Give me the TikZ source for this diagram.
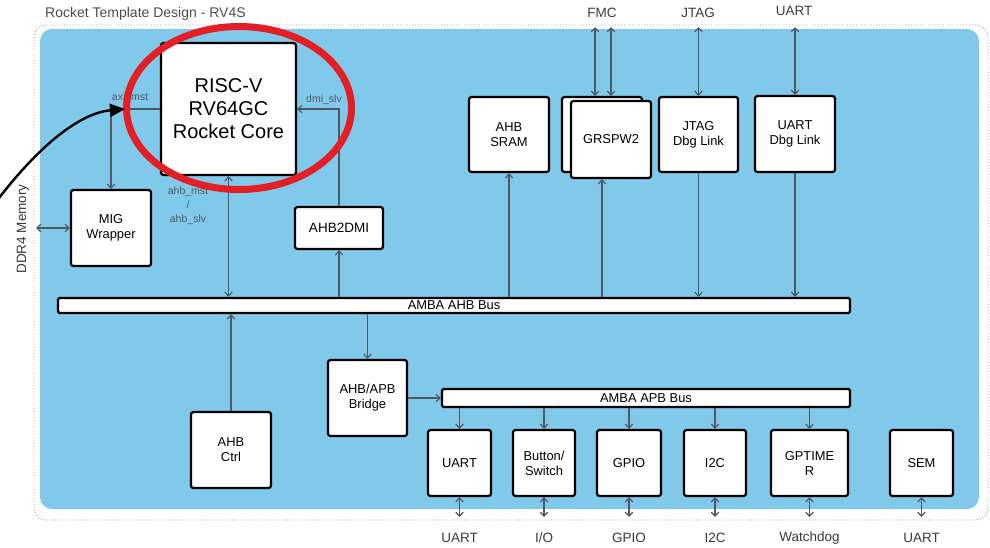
\documentclass[tikz,border=0pt]{standalone}
\usepackage{fontspec}
\setmainfont{Liberation Sans}
\usetikzlibrary{arrows.meta,calc,shapes.geometric}
\definecolor{bgblue}{HTML}{80C9EA}
\definecolor{conngray}{HTML}{4E5860}
\definecolor{redring}{HTML}{E31E24}
\definecolor{labgray}{HTML}{3A3A3A}
\definecolor{siggray}{HTML}{505A60}
\begin{document}
\begin{tikzpicture}[x=1pt,y=-1pt,
  >={Straight Barb[length=4pt,width=7.5pt]},
  blk/.style={draw=black, line width=2.2pt, fill=white, rounded corners=2.5pt, align=center, inner sep=0pt, font=\fontsize{12.9}{15}\selectfont},
  busbar/.style={draw=black, line width=2.2pt, fill=white, rounded corners=1.5pt, inner sep=0pt, font=\fontsize{12.9}{15}\selectfont},
  conn/.style={draw=conngray, line width=1.2pt},
  ext/.style={text=labgray, inner sep=0pt, font=\fontsize{13.5}{16}\selectfont},
  sig/.style={text=siggray, inner sep=0pt, align=center, font=\fontsize{10.5}{14}\selectfont},
]
\useasboundingbox (0,0) rectangle (990,547);
\fill[white] (0,0) rectangle (990,547);

% title
\node[ext, anchor=west, text=black!70, font=\fontsize{14}{16}\selectfont] (title) at (45,14) {Rocket Template Design - RV4S};

% frame and background
\draw[black!40, dotted, line width=0.9pt, rounded corners=12pt] (34,25) rectangle (988,520);
\fill[bgblue, rounded corners=12pt] (40,29) rectangle (979,509);

% main blocks
\node[blk, minimum width=135pt, minimum height=132pt, font=\fontsize{20}{23}\selectfont] (core) at (228.5,109) {RISC-V\\RV64GC\\Rocket Core};
\node[blk, minimum width=80pt, minimum height=76pt] (mig) at (111,228) {MIG\\Wrapper};
\node[blk, minimum width=88pt, minimum height=42pt, font=\fontsize{13.5}{15}\selectfont] (dmi) at (339,228) {AHB2DMI};
\node[blk, minimum width=80pt, minimum height=75pt] (sram) at (509,134.5) {AHB\\SRAM};
\node[blk, minimum width=80pt, minimum height=75pt] (grb) at (602,134.5) {};
\node[blk, minimum width=80pt, minimum height=77pt] (grf) at (611,139.5) {GRSPW2};
\node[blk, minimum width=79pt, minimum height=75pt] (jtag) at (698.5,134.5) {JTAG\\Dbg Link};
\node[blk, minimum width=80pt, minimum height=76pt] (udbg) at (795,134) {UART\\Dbg Link};

% buses
\node[busbar, minimum width=792pt, minimum height=15pt] (ahb) at (454,305.5) {AMBA AHB Bus};
\node[busbar, minimum width=408pt, minimum height=18pt] (apb) at (646,398) {AMBA APB Bus};

\node[blk, minimum width=79pt, minimum height=76pt] (bridge) at (367.5,398) {AHB/APB\\Bridge};
\node[blk, minimum width=80pt, minimum height=76pt] (actrl) at (231,450) {AHB\\Ctrl};

% peripherals
\node[blk, minimum width=63pt, minimum height=66pt] (pu) at (459.5,463) {UART};
\node[blk, minimum width=62pt, minimum height=66pt] (pb) at (544,463) {Button/\\Switch};
\node[blk, minimum width=64pt, minimum height=66pt] (pg) at (629,463) {GPIO};
\node[blk, minimum width=62pt, minimum height=66pt] (pi) at (715,463) {I2C};
\node[blk, minimum width=77pt, minimum height=66pt] (pt) at (809.5,463) {GPTIME\\R};
\node[blk, minimum width=63pt, minimum height=66pt] (ps) at (921.5,463) {SEM};

% signal labels
\node[sig] (axil) at (130,98) {axi\_mst};
\node[sig] (dmil) at (324,100) {dmi\_slv};
\node[sig] (ahbl) at (188,206) {ahb\_mst\\/\\ahb\_slv};
\node[ext, rotate=90] (ddr) at (23,229) {DDR4 Memory};

% top external labels
\node[ext] (fmc) at (602,13) {FMC};
\node[ext] (jtl) at (698,13) {JTAG};
\node[ext] (utl) at (794,11) {UART};

% bottom external labels
\coordinate (botlab) at (0,538);
\coordinate (botend) at (0,517);
\node[ext] (lu) at (pu.south |- botlab) {UART};
\node[ext] (lb) at (pb.south |- botlab) {I/O};
\node[ext] (lg) at (pg.south |- botlab) {GPIO};
\node[ext] (li) at (pi.south |- botlab) {I2C};
\node[ext] (lt) at (pt.south |- botlab) {Watchdog};
\node[ext] (ls) at (ps.south |- botlab) {UART};

% connectors
\draw[conn,->] (core.west) -| (mig.north);
\draw[conn,->] (dmi.north) |- (core.east);
\draw[conn,<->] (core.south) -- (core.south |- ahb.north);
\draw[conn,<-] (dmi.south) -- (dmi.south |- ahb.north);
\coordinate (ddrend) at (36,228);
\draw[conn,<->] (ddrend) -- (mig.west);

\draw[conn,->] (sram.south |- ahb.north) -- (sram.south);
\draw[conn,->] (grb.south |- ahb.north) -- (grb.south |- grf.south);
\draw[conn,->] (jtag.south) -- (jtag.south |- ahb.north);
\draw[conn,->] (udbg.south) -- (udbg.south |- ahb.north);

\coordinate (fa) at (595,27);
\coordinate (fb) at (611,27);
\coordinate (ja) at (698.5,27);
\coordinate (ua) at (795,27);
\draw[conn,<->] (fa) -- (fa |- grb.north);
\draw[conn,<->] (fb) -- (fb |- grb.north);
\draw[conn,<->] (ja) -- (jtag.north);
\draw[conn,<->] (ua) -- (udbg.north);

\draw[conn,->] (bridge.north |- ahb.south) -- (bridge.north);
\draw[conn,->] (bridge.east) -- (bridge.east -| apb.west);
\draw[conn,->] (actrl.north) -- (actrl.north |- ahb.south);

\foreach \p in {pu,pb,pg,pi,pt,ps}{
  \draw[conn,<->] (\p.south) -- (\p.south |- botend);
}
\foreach \p in {pu,pb,pg,pi,pt}{
  \draw[conn,->] (\p.north |- apb.south) -- (\p.north);
}

% red highlight ring and pointer
\node[draw=redring, line width=7pt, ellipse, minimum width=225pt, minimum height=163pt, inner sep=0pt] (ring) at (239,108) {};
\coordinate (ptrstart) at (-1,198);
\coordinate (ptrend) at (125,109);
\draw[black, line width=2.4pt, -{Triangle[length=15pt,width=13pt]}] (ptrstart) .. controls (40,145) and (80,113) .. (ptrend);
\end{tikzpicture}
\end{document}
